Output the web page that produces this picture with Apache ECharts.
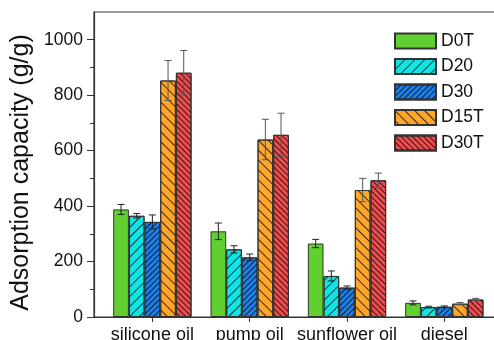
<!DOCTYPE html>
<html><head><meta charset="utf-8">
<script src="https://cdn.jsdelivr.net/npm/echarts@6/dist/echarts.min.js"></script>
<style>html,body{margin:0;padding:0;background:#fff}#c{width:494px;height:340px}</style>
</head><body><div id="c"></div>
<script>
var categories = ['silicone oil', 'pump oil', 'sunflower oil', 'diesel'];
var seriesNames = ['D0T', 'D20', 'D30', 'D15T', 'D30T'];
var D0T  = [388, 309, 265, 51];
var D20  = [365, 244, 148, 36];
var D30  = [343, 215, 106, 37];
var D15T = [853, 640, 458, 48];
var D30T = [881, 657, 493, 63];
var D0T_err  = [18, 30, 15, 7];
var D20_err  = [8, 13, 18, 3];
var D30_err  = [25, 12, 6, 3];
var D15T_err = [72, 73, 42, 4];
var D30T_err = [80, 78, 26, 4];
var yLabelValues = [0, 200, 400, 600, 800, 1000];
var yMinorValues = [100, 300, 500, 700, 900];
var xPositions = [1, 2, 3, 4];

var values = [D0T, D20, D30, D15T, D30T];
var errs = [D0T_err, D20_err, D30_err, D15T_err, D30T_err];
var colors = ['#62cf30', '#10e4e4', '#1c80e8', '#ffa62b', '#f04e4e'];
var decals = [
  null,
  {symbol:'rect', symbolSize:1, dashArrayX:[1,0], dashArrayY:[1,6], rotation:-Math.PI/4, color:'rgba(0,0,0,0.75)'},
  {symbol:'rect', symbolSize:1, dashArrayX:[1,0], dashArrayY:[1,2.2], rotation:-Math.PI/4, color:'rgba(0,0,0,0.75)'},
  {symbol:'rect', symbolSize:1, dashArrayX:[1,0], dashArrayY:[1,6], rotation:Math.PI/4, color:'rgba(0,0,0,0.75)'},
  {symbol:'rect', symbolSize:1, dashArrayX:[1,0], dashArrayY:[1,2.2], rotation:Math.PI/4, color:'rgba(0,0,0,0.75)'}
];
var BAR_FRAC = 0.161;
var FONT = '"Liberation Sans", Arial, sans-serif';

var series = [];
values.forEach(function (vals, k) {
  var st = {color: colors[k], borderColor: '#333', borderWidth: 1};
  if (decals[k]) st.decal = decals[k];
  series.push({
    name: seriesNames[k], type: 'bar', xAxisIndex: 0, yAxisIndex: 0,
    barWidth: (BAR_FRAC * 100) + '%', barGap: '0%',
    itemStyle: st,
    data: vals.map(function (v, i) { return [xPositions[i], v]; }),
    z: 2
  });
});
values.forEach(function (vals, k) {
  series.push({
    name: 'err' + k, type: 'custom', xAxisIndex: 0, yAxisIndex: 0, z: 5,
    encode: {x: 0, y: [1, 2]},
    data: vals.map(function (v, i) { return [xPositions[i], v - errs[k][i], v + errs[k][i]]; }),
    renderItem: function (params, api) {
      var x = api.value(0);
      var base = api.coord([x, api.value(1)]);
      var top = api.coord([x, api.value(2)]);
      var band = api.size([1, 0])[0];
      var bw = band * BAR_FRAC;
      var cx = base[0] + (k - 2) * bw;
      var cap = 3.5;
      var style = {stroke: k >= 3 ? '#555' : '#222', lineWidth: 1, fill: null};
      return {type: 'group', children: [
        {type: 'line', shape: {x1: cx, y1: top[1], x2: cx, y2: base[1]}, style: style},
        {type: 'line', shape: {x1: cx - cap, y1: top[1], x2: cx + cap, y2: top[1]}, style: style},
        {type: 'line', shape: {x1: cx - cap, y1: base[1], x2: cx + cap, y2: base[1]}, style: style}
      ]};
    }
  });
});

var chart = echarts.init(document.getElementById('c'), null, {renderer: 'canvas'});
chart.setOption({
  animation: false,
  backgroundColor: '#fff',
  textStyle: {fontFamily: FONT},
  grid: {left: 94, top: 12, width: 408.7, bottom: 23, show: true, borderColor: '#333', borderWidth: 1.2,
    backgroundColor: 'transparent', outerBoundsMode: 'none', containLabel: false},
  legend: {
    data: seriesNames, orient: 'vertical', left: 394, top: 32, padding: 0,
    itemWidth: 41, itemHeight: 15, itemGap: 7.5, icon: 'rect',
    textStyle: {fontSize: 17.5, color: '#111', fontFamily: FONT, lineHeight: 15}
  },
  xAxis: [{
    type: 'value', min: 0.4, max: 4.6,
    axisLine: {show: true, lineStyle: {color: '#333', width: 1.2}},
    splitLine: {show: false},
    axisTick: {show: true, customValues: xPositions, length: 5, lineStyle: {color: '#333'}},
    axisLabel: {customValues: xPositions, margin: 9, fontSize: 18, color: '#111', fontFamily: FONT,
      formatter: function (v) { return categories[Math.round(v) - 1] || ''; }}
  }],
  yAxis: [{
    type: 'value', min: 0, max: 1100,
    name: 'Adsorption capacity (g/g)', nameLocation: 'middle', nameGap: 43,
    nameTextStyle: {fontSize: 25, color: '#111', fontFamily: FONT, padding: [0, 16, 0, 0]},
    axisLine: {show: true, lineStyle: {color: '#333', width: 1.2}},
    splitLine: {show: false},
    axisTick: {show: true, customValues: yLabelValues, length: 7, lineStyle: {color: '#333'}},
    axisLabel: {customValues: yLabelValues, margin: 11, fontSize: 17.5, color: '#111', fontFamily: FONT,
      formatter: function (v) { return String(v); }}
  }, {
    type: 'value', min: 0, max: 1100, position: 'left',
    axisLine: {show: false}, splitLine: {show: false},
    axisTick: {show: true, customValues: yMinorValues, length: 4, lineStyle: {color: '#333'}},
    axisLabel: {show: false}
  }],
  series: series
});
</script></body></html>
